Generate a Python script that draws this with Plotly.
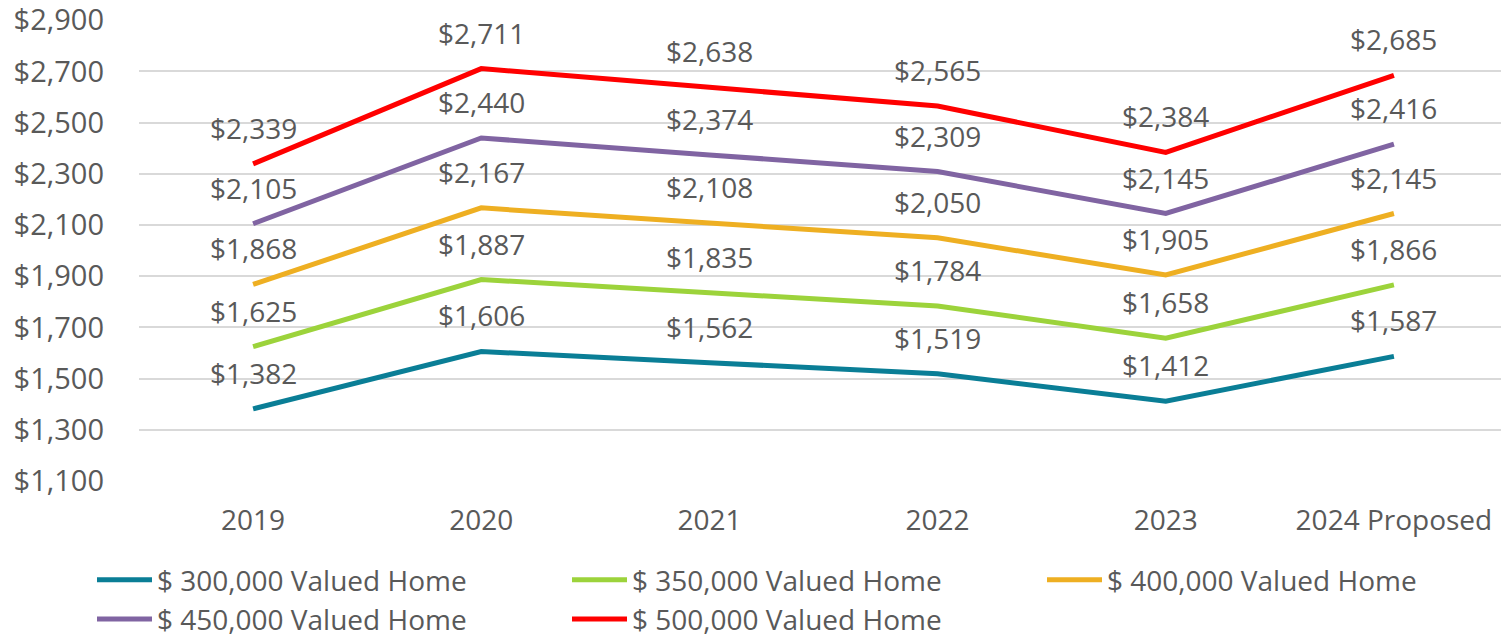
import plotly.graph_objects as go

categories = ["2019", "2020", "2021", "2022", "2023", "2024 Proposed"]
series_names = ["$ 300,000 Valued Home", "$ 350,000 Valued Home", "$ 400,000 Valued Home",
                "$ 450,000 Valued Home", "$ 500,000 Valued Home"]
v300 = [1382, 1606, 1562, 1519, 1412, 1587]
v350 = [1625, 1887, 1835, 1784, 1658, 1866]
v400 = [1868, 2167, 2108, 2050, 1905, 2145]
v450 = [2105, 2440, 2374, 2309, 2145, 2416]
v500 = [2339, 2711, 2638, 2565, 2384, 2685]
colors = ["#0A7E96", "#9CD33B", "#EEAF22", "#8064A2", "#FF0000"]
tick_vals = [1100, 1300, 1500, 1700, 1900, 2100, 2300, 2500, 2700, 2900]

FONT = "Open Sans"
TXT = "#595959"
FS = 28

fig = go.Figure()
annotations = []
for name, vals, col in zip(series_names, [v300, v350, v400, v450, v500], colors):
    fig.add_trace(go.Scatter(x=categories, y=vals, name=name, mode="lines",
                             line=dict(color=col, width=5)))
    for i, v in enumerate(vals):
        annotations.append(dict(x=i, y=v, xref="x", yref="y", text=f"${v:,}",
                                showarrow=False, yshift=36,
                                font=dict(family=FONT, size=FS, color=TXT)))

fig.update_layout(
    width=1509, height=660,
    margin=dict(l=131, r=9, t=12, b=187),
    paper_bgcolor="white", plot_bgcolor="white",
    font=dict(family=FONT, size=FS, color=TXT),
    showlegend=True,
    legend=dict(orientation="h", xref="paper", yref="paper", x=-0.0175, y=-0.1605,
                xanchor="left", yanchor="top", entrywidth=405, entrywidthmode="pixels",
                itemwidth=55, font=dict(family=FONT, size=FS, color=TXT),
                tracegroupgap=0, traceorder="normal"),
    annotations=annotations,
    xaxis=dict(type="category", range=[-0.5, 5.5], showgrid=False, showline=False,
               ticks="", automargin=False, tickfont=dict(size=FS, color=TXT),
               ticklabelstandoff=20),
    yaxis=dict(range=[1100, 2901], tickvals=tick_vals, automargin=False,
               ticktext=[f"${t:,}" for t in tick_vals], showgrid=True, gridcolor="#D9D9D9",
               gridwidth=2, zeroline=False, showline=False, ticks="",
               ticklabeloverflow="allow",
               tickfont=dict(size=29, color=TXT), ticklabelstandoff=34),
)
fig.write_html("out.html")
